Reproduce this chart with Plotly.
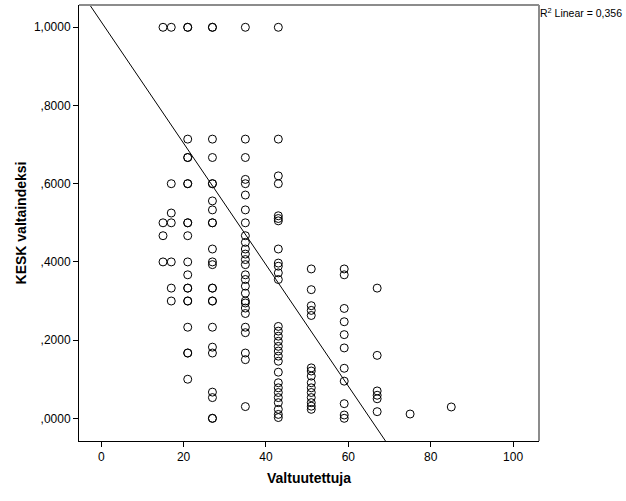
import numpy as np
import plotly.graph_objects as go

# Valtuutettuja (council seats) columns and KESK power index values read per column
x_15 = [1.0, 0.5, 0.467, 0.4]
x_17 = [1.0, 0.6, 0.525, 0.5, 0.4, 0.333, 0.3]
x_21 = [1.0, 1.0, 0.714, 0.667, 0.667, 0.6, 0.6, 0.5, 0.5, 0.467, 0.4, 0.367,
        0.333, 0.333, 0.3, 0.3, 0.233, 0.167, 0.167, 0.1]
x_27 = [1.0, 1.0, 0.714, 0.667, 0.6, 0.6, 0.556, 0.533, 0.5, 0.5, 0.433, 0.4,
        0.393, 0.333, 0.333, 0.3, 0.3, 0.233, 0.182, 0.167, 0.067, 0.053, 0.0, 0.0]
x_35 = [1.0, 0.714, 0.667, 0.611, 0.6, 0.571, 0.533, 0.5, 0.467, 0.45, 0.433,
        0.42, 0.406, 0.393, 0.367, 0.355, 0.338, 0.32, 0.3, 0.295, 0.282, 0.268,
        0.233, 0.219, 0.167, 0.15, 0.03]
x_43 = [1.0, 0.714, 0.62, 0.6, 0.518, 0.511, 0.505, 0.433, 0.397, 0.389, 0.372,
        0.355, 0.235, 0.223, 0.21, 0.197, 0.184, 0.172, 0.159, 0.146, 0.118,
        0.091, 0.078, 0.066, 0.053, 0.04, 0.023, 0.01, 0.002]
x_51 = [0.382, 0.329, 0.288, 0.276, 0.263, 0.129, 0.121, 0.108, 0.091, 0.078,
        0.066, 0.053, 0.04, 0.031, 0.023]
x_59 = [0.382, 0.367, 0.281, 0.247, 0.214, 0.18, 0.128, 0.095, 0.0375, 0.0085, 0.0]
x_67 = [0.333, 0.161, 0.07, 0.059, 0.05, 0.017]
x_75 = [0.011]
x_85 = [0.029]

columns = {15: x_15, 17: x_17, 21: x_21, 27: x_27, 35: x_35, 43: x_43,
           51: x_51, 59: x_59, 67: x_67, 75: x_75, 85: x_85}

fit_intercept = 1.014
fit_slope = -0.01553

y_tickvals = [0.0, 0.2, 0.4, 0.6, 0.8, 1.0]
y_ticktext = [",0000", ",2000", ",4000", ",6000", ",8000", "1,0000"]
x_tickvals = [0, 20, 40, 60, 80, 100]
r2_label = "R<sup>2</sup> Linear = 0,356"

x_range = [-5.4, 106.3]
y_range = [-0.058, 1.057]

xs = np.concatenate([[k] * len(v) for k, v in columns.items()]).astype(float)
ys = np.concatenate([v for v in columns.values()])

line_x = np.array(x_range)
line_y = fit_intercept + fit_slope * line_x

fig = go.Figure()

fig.add_trace(go.Scatter(
    x=xs, y=ys, mode='markers',
    marker=dict(symbol='circle-open', size=8, color='black', line=dict(width=1)),
    showlegend=False, hoverinfo='skip'
))

fig.add_trace(go.Scatter(
    x=line_x, y=line_y, mode='lines',
    line=dict(color='black', width=1),
    showlegend=False, hoverinfo='skip'
))

# Gray frame on top and right
fig.add_shape(type='line', xref='paper', yref='paper', x0=0, x1=1, y0=1, y1=1,
              line=dict(color='#8c8c8c', width=2))
fig.add_shape(type='line', xref='paper', yref='paper', x0=1, x1=1, y0=0, y1=1,
              line=dict(color='#8c8c8c', width=2))

fig.add_annotation(text=r2_label, xref='paper', yref='paper', x=1, y=1,
                   xanchor='left', yanchor='top', showarrow=False, xshift=0, yshift=0,
                   borderpad=0,
                   font=dict(family='Liberation Sans, Arial', size=10.5, color='black'))

fig.update_layout(
    width=626, height=501,
    margin=dict(l=79, r=87, t=5, b=60),
    plot_bgcolor='white', paper_bgcolor='white',
    font=dict(family='Liberation Sans, Arial', size=12, color='black'),
    showlegend=False
)

fig.update_xaxes(
    range=x_range, tickvals=x_tickvals, ticks='outside', ticklen=5,
    tickcolor='black', showline=True, linecolor='black', linewidth=1,
    showgrid=False, zeroline=False,
    title=dict(text='<b>Valtuutettuja</b>', font=dict(size=14), standoff=9)
)
fig.update_yaxes(
    range=y_range, tickvals=y_tickvals, ticktext=y_ticktext, ticks='outside',
    ticklen=5, tickcolor='black', showline=True, linecolor='black', linewidth=1,
    showgrid=False, zeroline=False,
    title=dict(text='<b>KESK valtaindeksi</b>', font=dict(size=14), standoff=3)
)

fig.write_html("out.html", config={'displayModeBar': False},
               post_script="document.body.style.margin='0';")
